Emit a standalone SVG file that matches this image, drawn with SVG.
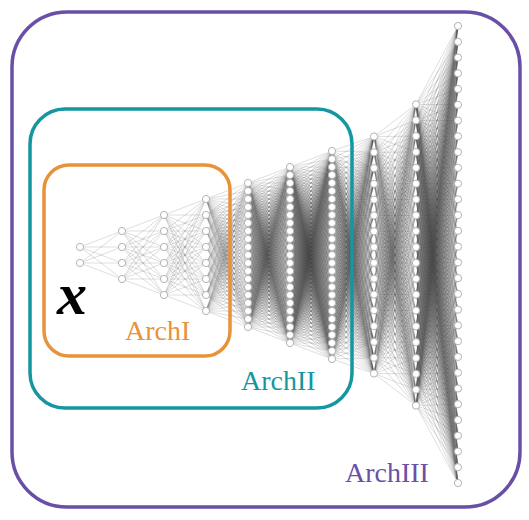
<svg xmlns="http://www.w3.org/2000/svg" xmlns:xlink="http://www.w3.org/1999/xlink" width="529" height="520" viewBox="0 0 529 520">
<style>
.e{fill:none;stroke:#444;stroke-opacity:0.24;stroke-width:0.75;vector-effect:non-scaling-stroke}
.n{fill:#fff;stroke:#b4b4b4;stroke-width:1}
.box{fill:none;stroke-width:3.5}
.lbl{font-family:"Liberation Serif","Times New Roman",serif;font-size:28px}
</style>
<defs>
<path id="f1" class="e" d="M0 0L1 231M0 0L1 247M0 0L1 263M0 0L1 279"/>
<path id="f2" class="e" d="M0 0L1 215M0 0L1 231M0 0L1 247M0 0L1 263M0 0L1 279M0 0L1 295"/>
<path id="f3" class="e" d="M0 0L1 199M0 0L1 215M0 0L1 231M0 0L1 247M0 0L1 263M0 0L1 279M0 0L1 295M0 0L1 311"/>
<path id="f4" class="e" d="M0 0L1 183M0 0L1 191M0 0L1 199M0 0L1 207M0 0L1 215M0 0L1 223M0 0L1 231M0 0L1 239M0 0L1 247M0 0L1 255M0 0L1 263M0 0L1 271M0 0L1 279M0 0L1 287M0 0L1 295M0 0L1 303M0 0L1 311M0 0L1 319M0 0L1 327"/>
<path id="f5" class="e" d="M0 0L1 167M0 0L1 175M0 0L1 183M0 0L1 191M0 0L1 199M0 0L1 207M0 0L1 215M0 0L1 223M0 0L1 231M0 0L1 239M0 0L1 247M0 0L1 255M0 0L1 263M0 0L1 271M0 0L1 279M0 0L1 287M0 0L1 295M0 0L1 303M0 0L1 311M0 0L1 319M0 0L1 327M0 0L1 335M0 0L1 343"/>
<path id="f6" class="e" d="M0 0L1 151M0 0L1 159M0 0L1 167M0 0L1 175M0 0L1 183M0 0L1 191M0 0L1 199M0 0L1 207M0 0L1 215M0 0L1 223M0 0L1 231M0 0L1 239M0 0L1 247M0 0L1 255M0 0L1 263M0 0L1 271M0 0L1 279M0 0L1 287M0 0L1 295M0 0L1 303M0 0L1 311M0 0L1 319M0 0L1 327M0 0L1 335M0 0L1 343M0 0L1 351M0 0L1 359"/>
<path id="f7" class="e" d="M0 0L1 136.5M0 0L1 152.3M0 0L1 168.1M0 0L1 183.9M0 0L1 199.7M0 0L1 215.5M0 0L1 231.3M0 0L1 247.1M0 0L1 262.9M0 0L1 278.7M0 0L1 294.5M0 0L1 310.3M0 0L1 326.1M0 0L1 341.9M0 0L1 357.7M0 0L1 373.5"/>
<path id="f8" class="e" d="M0 0L1 104.4M0 0L1 120.3M0 0L1 136.1M0 0L1 152M0 0L1 167.8M0 0L1 183.7M0 0L1 199.5M0 0L1 215.4M0 0L1 231.2M0 0L1 247.1M0 0L1 262.9M0 0L1 278.8M0 0L1 294.6M0 0L1 310.5M0 0L1 326.3M0 0L1 342.2M0 0L1 358M0 0L1 373.9M0 0L1 389.7M0 0L1 405.6"/>
<path id="f9" class="e" d="M0 0L1 26M0 0L1 41.8M0 0L1 57.5M0 0L1 73.3M0 0L1 89M0 0L1 104.8M0 0L1 120.6M0 0L1 136.3M0 0L1 152.1M0 0L1 167.8M0 0L1 183.6M0 0L1 199.3M0 0L1 215.1M0 0L1 230.9M0 0L1 246.6M0 0L1 262.4M0 0L1 278.1M0 0L1 293.9M0 0L1 309.7M0 0L1 325.4M0 0L1 341.2M0 0L1 356.9M0 0L1 372.7M0 0L1 388.5M0 0L1 404.2M0 0L1 420M0 0L1 435.7M0 0L1 451.5M0 0L1 467.2M0 0L1 483"/>
</defs>
<rect width="529" height="520" fill="#fff"/>
<g id="connectors">
<use href="#f1" transform="matrix(42 -247 0 1 80 247)"/>
<use href="#f1" transform="matrix(42 -263 0 1 80 263)"/>
<use href="#f2" transform="matrix(42 -231 0 1 122 231)"/>
<use href="#f2" transform="matrix(42 -247 0 1 122 247)"/>
<use href="#f2" transform="matrix(42 -263 0 1 122 263)"/>
<use href="#f2" transform="matrix(42 -279 0 1 122 279)"/>
<use href="#f3" transform="matrix(42 -215 0 1 164 215)"/>
<use href="#f3" transform="matrix(42 -231 0 1 164 231)"/>
<use href="#f3" transform="matrix(42 -247 0 1 164 247)"/>
<use href="#f3" transform="matrix(42 -263 0 1 164 263)"/>
<use href="#f3" transform="matrix(42 -279 0 1 164 279)"/>
<use href="#f3" transform="matrix(42 -295 0 1 164 295)"/>
<use href="#f4" transform="matrix(42 -199 0 1 206 199)"/>
<use href="#f4" transform="matrix(42 -215 0 1 206 215)"/>
<use href="#f4" transform="matrix(42 -231 0 1 206 231)"/>
<use href="#f4" transform="matrix(42 -247 0 1 206 247)"/>
<use href="#f4" transform="matrix(42 -263 0 1 206 263)"/>
<use href="#f4" transform="matrix(42 -279 0 1 206 279)"/>
<use href="#f4" transform="matrix(42 -295 0 1 206 295)"/>
<use href="#f4" transform="matrix(42 -311 0 1 206 311)"/>
<use href="#f5" transform="matrix(42 -183 0 1 248 183)"/>
<use href="#f5" transform="matrix(42 -191 0 1 248 191)"/>
<use href="#f5" transform="matrix(42 -199 0 1 248 199)"/>
<use href="#f5" transform="matrix(42 -207 0 1 248 207)"/>
<use href="#f5" transform="matrix(42 -215 0 1 248 215)"/>
<use href="#f5" transform="matrix(42 -223 0 1 248 223)"/>
<use href="#f5" transform="matrix(42 -231 0 1 248 231)"/>
<use href="#f5" transform="matrix(42 -239 0 1 248 239)"/>
<use href="#f5" transform="matrix(42 -247 0 1 248 247)"/>
<use href="#f5" transform="matrix(42 -255 0 1 248 255)"/>
<use href="#f5" transform="matrix(42 -263 0 1 248 263)"/>
<use href="#f5" transform="matrix(42 -271 0 1 248 271)"/>
<use href="#f5" transform="matrix(42 -279 0 1 248 279)"/>
<use href="#f5" transform="matrix(42 -287 0 1 248 287)"/>
<use href="#f5" transform="matrix(42 -295 0 1 248 295)"/>
<use href="#f5" transform="matrix(42 -303 0 1 248 303)"/>
<use href="#f5" transform="matrix(42 -311 0 1 248 311)"/>
<use href="#f5" transform="matrix(42 -319 0 1 248 319)"/>
<use href="#f5" transform="matrix(42 -327 0 1 248 327)"/>
<use href="#f6" transform="matrix(42 -167 0 1 290 167)"/>
<use href="#f6" transform="matrix(42 -175 0 1 290 175)"/>
<use href="#f6" transform="matrix(42 -183 0 1 290 183)"/>
<use href="#f6" transform="matrix(42 -191 0 1 290 191)"/>
<use href="#f6" transform="matrix(42 -199 0 1 290 199)"/>
<use href="#f6" transform="matrix(42 -207 0 1 290 207)"/>
<use href="#f6" transform="matrix(42 -215 0 1 290 215)"/>
<use href="#f6" transform="matrix(42 -223 0 1 290 223)"/>
<use href="#f6" transform="matrix(42 -231 0 1 290 231)"/>
<use href="#f6" transform="matrix(42 -239 0 1 290 239)"/>
<use href="#f6" transform="matrix(42 -247 0 1 290 247)"/>
<use href="#f6" transform="matrix(42 -255 0 1 290 255)"/>
<use href="#f6" transform="matrix(42 -263 0 1 290 263)"/>
<use href="#f6" transform="matrix(42 -271 0 1 290 271)"/>
<use href="#f6" transform="matrix(42 -279 0 1 290 279)"/>
<use href="#f6" transform="matrix(42 -287 0 1 290 287)"/>
<use href="#f6" transform="matrix(42 -295 0 1 290 295)"/>
<use href="#f6" transform="matrix(42 -303 0 1 290 303)"/>
<use href="#f6" transform="matrix(42 -311 0 1 290 311)"/>
<use href="#f6" transform="matrix(42 -319 0 1 290 319)"/>
<use href="#f6" transform="matrix(42 -327 0 1 290 327)"/>
<use href="#f6" transform="matrix(42 -335 0 1 290 335)"/>
<use href="#f6" transform="matrix(42 -343 0 1 290 343)"/>
<use href="#f7" transform="matrix(42 -151 0 1 332 151)"/>
<use href="#f7" transform="matrix(42 -159 0 1 332 159)"/>
<use href="#f7" transform="matrix(42 -167 0 1 332 167)"/>
<use href="#f7" transform="matrix(42 -175 0 1 332 175)"/>
<use href="#f7" transform="matrix(42 -183 0 1 332 183)"/>
<use href="#f7" transform="matrix(42 -191 0 1 332 191)"/>
<use href="#f7" transform="matrix(42 -199 0 1 332 199)"/>
<use href="#f7" transform="matrix(42 -207 0 1 332 207)"/>
<use href="#f7" transform="matrix(42 -215 0 1 332 215)"/>
<use href="#f7" transform="matrix(42 -223 0 1 332 223)"/>
<use href="#f7" transform="matrix(42 -231 0 1 332 231)"/>
<use href="#f7" transform="matrix(42 -239 0 1 332 239)"/>
<use href="#f7" transform="matrix(42 -247 0 1 332 247)"/>
<use href="#f7" transform="matrix(42 -255 0 1 332 255)"/>
<use href="#f7" transform="matrix(42 -263 0 1 332 263)"/>
<use href="#f7" transform="matrix(42 -271 0 1 332 271)"/>
<use href="#f7" transform="matrix(42 -279 0 1 332 279)"/>
<use href="#f7" transform="matrix(42 -287 0 1 332 287)"/>
<use href="#f7" transform="matrix(42 -295 0 1 332 295)"/>
<use href="#f7" transform="matrix(42 -303 0 1 332 303)"/>
<use href="#f7" transform="matrix(42 -311 0 1 332 311)"/>
<use href="#f7" transform="matrix(42 -319 0 1 332 319)"/>
<use href="#f7" transform="matrix(42 -327 0 1 332 327)"/>
<use href="#f7" transform="matrix(42 -335 0 1 332 335)"/>
<use href="#f7" transform="matrix(42 -343 0 1 332 343)"/>
<use href="#f7" transform="matrix(42 -351 0 1 332 351)"/>
<use href="#f7" transform="matrix(42 -359 0 1 332 359)"/>
<use href="#f8" transform="matrix(42 -136.5 0 1 374 136.5)"/>
<use href="#f8" transform="matrix(42 -152.3 0 1 374 152.3)"/>
<use href="#f8" transform="matrix(42 -168.1 0 1 374 168.1)"/>
<use href="#f8" transform="matrix(42 -183.9 0 1 374 183.9)"/>
<use href="#f8" transform="matrix(42 -199.7 0 1 374 199.7)"/>
<use href="#f8" transform="matrix(42 -215.5 0 1 374 215.5)"/>
<use href="#f8" transform="matrix(42 -231.3 0 1 374 231.3)"/>
<use href="#f8" transform="matrix(42 -247.1 0 1 374 247.1)"/>
<use href="#f8" transform="matrix(42 -262.9 0 1 374 262.9)"/>
<use href="#f8" transform="matrix(42 -278.7 0 1 374 278.7)"/>
<use href="#f8" transform="matrix(42 -294.5 0 1 374 294.5)"/>
<use href="#f8" transform="matrix(42 -310.3 0 1 374 310.3)"/>
<use href="#f8" transform="matrix(42 -326.1 0 1 374 326.1)"/>
<use href="#f8" transform="matrix(42 -341.9 0 1 374 341.9)"/>
<use href="#f8" transform="matrix(42 -357.7 0 1 374 357.7)"/>
<use href="#f8" transform="matrix(42 -373.5 0 1 374 373.5)"/>
<use href="#f9" transform="matrix(42 -104.4 0 1 416 104.4)"/>
<use href="#f9" transform="matrix(42 -120.3 0 1 416 120.3)"/>
<use href="#f9" transform="matrix(42 -136.1 0 1 416 136.1)"/>
<use href="#f9" transform="matrix(42 -152 0 1 416 152)"/>
<use href="#f9" transform="matrix(42 -167.8 0 1 416 167.8)"/>
<use href="#f9" transform="matrix(42 -183.7 0 1 416 183.7)"/>
<use href="#f9" transform="matrix(42 -199.5 0 1 416 199.5)"/>
<use href="#f9" transform="matrix(42 -215.4 0 1 416 215.4)"/>
<use href="#f9" transform="matrix(42 -231.2 0 1 416 231.2)"/>
<use href="#f9" transform="matrix(42 -247.1 0 1 416 247.1)"/>
<use href="#f9" transform="matrix(42 -262.9 0 1 416 262.9)"/>
<use href="#f9" transform="matrix(42 -278.8 0 1 416 278.8)"/>
<use href="#f9" transform="matrix(42 -294.6 0 1 416 294.6)"/>
<use href="#f9" transform="matrix(42 -310.5 0 1 416 310.5)"/>
<use href="#f9" transform="matrix(42 -326.3 0 1 416 326.3)"/>
<use href="#f9" transform="matrix(42 -342.2 0 1 416 342.2)"/>
<use href="#f9" transform="matrix(42 -358 0 1 416 358)"/>
<use href="#f9" transform="matrix(42 -373.9 0 1 416 373.9)"/>
<use href="#f9" transform="matrix(42 -389.7 0 1 416 389.7)"/>
<use href="#f9" transform="matrix(42 -405.6 0 1 416 405.6)"/>
</g>
<g id="layer1">
<circle class="n" r="3.6" cx="80" cy="247"/><circle class="n" r="3.6" cx="80" cy="263"/>
</g>
<g id="layer2">
<circle class="n" r="3.6" cx="122" cy="231"/><circle class="n" r="3.6" cx="122" cy="247"/><circle class="n" r="3.6" cx="122" cy="263"/><circle class="n" r="3.6" cx="122" cy="279"/>
</g>
<g id="layer3">
<circle class="n" r="3.6" cx="164" cy="215"/><circle class="n" r="3.6" cx="164" cy="231"/><circle class="n" r="3.6" cx="164" cy="247"/><circle class="n" r="3.6" cx="164" cy="263"/><circle class="n" r="3.6" cx="164" cy="279"/><circle class="n" r="3.6" cx="164" cy="295"/>
</g>
<g id="layer4">
<circle class="n" r="3.6" cx="206" cy="199"/><circle class="n" r="3.6" cx="206" cy="215"/><circle class="n" r="3.6" cx="206" cy="231"/><circle class="n" r="3.6" cx="206" cy="247"/><circle class="n" r="3.6" cx="206" cy="263"/><circle class="n" r="3.6" cx="206" cy="279"/><circle class="n" r="3.6" cx="206" cy="295"/><circle class="n" r="3.6" cx="206" cy="311"/>
</g>
<g id="layer5">
<circle class="n" r="3.6" cx="248" cy="183"/><circle class="n" r="3.6" cx="248" cy="191"/><circle class="n" r="3.6" cx="248" cy="199"/><circle class="n" r="3.6" cx="248" cy="207"/><circle class="n" r="3.6" cx="248" cy="215"/><circle class="n" r="3.6" cx="248" cy="223"/><circle class="n" r="3.6" cx="248" cy="231"/><circle class="n" r="3.6" cx="248" cy="239"/><circle class="n" r="3.6" cx="248" cy="247"/><circle class="n" r="3.6" cx="248" cy="255"/><circle class="n" r="3.6" cx="248" cy="263"/><circle class="n" r="3.6" cx="248" cy="271"/><circle class="n" r="3.6" cx="248" cy="279"/><circle class="n" r="3.6" cx="248" cy="287"/><circle class="n" r="3.6" cx="248" cy="295"/><circle class="n" r="3.6" cx="248" cy="303"/><circle class="n" r="3.6" cx="248" cy="311"/><circle class="n" r="3.6" cx="248" cy="319"/><circle class="n" r="3.6" cx="248" cy="327"/>
</g>
<g id="layer6">
<circle class="n" r="3.6" cx="290" cy="167"/><circle class="n" r="3.6" cx="290" cy="175"/><circle class="n" r="3.6" cx="290" cy="183"/><circle class="n" r="3.6" cx="290" cy="191"/><circle class="n" r="3.6" cx="290" cy="199"/><circle class="n" r="3.6" cx="290" cy="207"/><circle class="n" r="3.6" cx="290" cy="215"/><circle class="n" r="3.6" cx="290" cy="223"/><circle class="n" r="3.6" cx="290" cy="231"/><circle class="n" r="3.6" cx="290" cy="239"/><circle class="n" r="3.6" cx="290" cy="247"/><circle class="n" r="3.6" cx="290" cy="255"/><circle class="n" r="3.6" cx="290" cy="263"/><circle class="n" r="3.6" cx="290" cy="271"/><circle class="n" r="3.6" cx="290" cy="279"/><circle class="n" r="3.6" cx="290" cy="287"/><circle class="n" r="3.6" cx="290" cy="295"/><circle class="n" r="3.6" cx="290" cy="303"/><circle class="n" r="3.6" cx="290" cy="311"/><circle class="n" r="3.6" cx="290" cy="319"/><circle class="n" r="3.6" cx="290" cy="327"/><circle class="n" r="3.6" cx="290" cy="335"/><circle class="n" r="3.6" cx="290" cy="343"/>
</g>
<g id="layer7">
<circle class="n" r="3.6" cx="332" cy="151"/><circle class="n" r="3.6" cx="332" cy="159"/><circle class="n" r="3.6" cx="332" cy="167"/><circle class="n" r="3.6" cx="332" cy="175"/><circle class="n" r="3.6" cx="332" cy="183"/><circle class="n" r="3.6" cx="332" cy="191"/><circle class="n" r="3.6" cx="332" cy="199"/><circle class="n" r="3.6" cx="332" cy="207"/><circle class="n" r="3.6" cx="332" cy="215"/><circle class="n" r="3.6" cx="332" cy="223"/><circle class="n" r="3.6" cx="332" cy="231"/><circle class="n" r="3.6" cx="332" cy="239"/><circle class="n" r="3.6" cx="332" cy="247"/><circle class="n" r="3.6" cx="332" cy="255"/><circle class="n" r="3.6" cx="332" cy="263"/><circle class="n" r="3.6" cx="332" cy="271"/><circle class="n" r="3.6" cx="332" cy="279"/><circle class="n" r="3.6" cx="332" cy="287"/><circle class="n" r="3.6" cx="332" cy="295"/><circle class="n" r="3.6" cx="332" cy="303"/><circle class="n" r="3.6" cx="332" cy="311"/><circle class="n" r="3.6" cx="332" cy="319"/><circle class="n" r="3.6" cx="332" cy="327"/><circle class="n" r="3.6" cx="332" cy="335"/><circle class="n" r="3.6" cx="332" cy="343"/><circle class="n" r="3.6" cx="332" cy="351"/><circle class="n" r="3.6" cx="332" cy="359"/>
</g>
<g id="layer8">
<circle class="n" r="3.6" cx="374" cy="136.5"/><circle class="n" r="3.6" cx="374" cy="152.3"/><circle class="n" r="3.6" cx="374" cy="168.1"/><circle class="n" r="3.6" cx="374" cy="183.9"/><circle class="n" r="3.6" cx="374" cy="199.7"/><circle class="n" r="3.6" cx="374" cy="215.5"/><circle class="n" r="3.6" cx="374" cy="231.3"/><circle class="n" r="3.6" cx="374" cy="247.1"/><circle class="n" r="3.6" cx="374" cy="262.9"/><circle class="n" r="3.6" cx="374" cy="278.7"/><circle class="n" r="3.6" cx="374" cy="294.5"/><circle class="n" r="3.6" cx="374" cy="310.3"/><circle class="n" r="3.6" cx="374" cy="326.1"/><circle class="n" r="3.6" cx="374" cy="341.9"/><circle class="n" r="3.6" cx="374" cy="357.7"/><circle class="n" r="3.6" cx="374" cy="373.5"/>
</g>
<g id="layer9">
<circle class="n" r="3.6" cx="416" cy="104.4"/><circle class="n" r="3.6" cx="416" cy="120.3"/><circle class="n" r="3.6" cx="416" cy="136.1"/><circle class="n" r="3.6" cx="416" cy="152"/><circle class="n" r="3.6" cx="416" cy="167.8"/><circle class="n" r="3.6" cx="416" cy="183.7"/><circle class="n" r="3.6" cx="416" cy="199.5"/><circle class="n" r="3.6" cx="416" cy="215.4"/><circle class="n" r="3.6" cx="416" cy="231.2"/><circle class="n" r="3.6" cx="416" cy="247.1"/><circle class="n" r="3.6" cx="416" cy="262.9"/><circle class="n" r="3.6" cx="416" cy="278.8"/><circle class="n" r="3.6" cx="416" cy="294.6"/><circle class="n" r="3.6" cx="416" cy="310.5"/><circle class="n" r="3.6" cx="416" cy="326.3"/><circle class="n" r="3.6" cx="416" cy="342.2"/><circle class="n" r="3.6" cx="416" cy="358"/><circle class="n" r="3.6" cx="416" cy="373.9"/><circle class="n" r="3.6" cx="416" cy="389.7"/><circle class="n" r="3.6" cx="416" cy="405.6"/>
</g>
<g id="layer10">
<circle class="n" r="3.6" cx="458" cy="26"/><circle class="n" r="3.6" cx="458" cy="41.8"/><circle class="n" r="3.6" cx="458" cy="57.5"/><circle class="n" r="3.6" cx="458" cy="73.3"/><circle class="n" r="3.6" cx="458" cy="89"/><circle class="n" r="3.6" cx="458" cy="104.8"/><circle class="n" r="3.6" cx="458" cy="120.6"/><circle class="n" r="3.6" cx="458" cy="136.3"/><circle class="n" r="3.6" cx="458" cy="152.1"/><circle class="n" r="3.6" cx="458" cy="167.8"/><circle class="n" r="3.6" cx="458" cy="183.6"/><circle class="n" r="3.6" cx="458" cy="199.3"/><circle class="n" r="3.6" cx="458" cy="215.1"/><circle class="n" r="3.6" cx="458" cy="230.9"/><circle class="n" r="3.6" cx="458" cy="246.6"/><circle class="n" r="3.6" cx="458" cy="262.4"/><circle class="n" r="3.6" cx="458" cy="278.1"/><circle class="n" r="3.6" cx="458" cy="293.9"/><circle class="n" r="3.6" cx="458" cy="309.7"/><circle class="n" r="3.6" cx="458" cy="325.4"/><circle class="n" r="3.6" cx="458" cy="341.2"/><circle class="n" r="3.6" cx="458" cy="356.9"/><circle class="n" r="3.6" cx="458" cy="372.7"/><circle class="n" r="3.6" cx="458" cy="388.5"/><circle class="n" r="3.6" cx="458" cy="404.2"/><circle class="n" r="3.6" cx="458" cy="420"/><circle class="n" r="3.6" cx="458" cy="435.7"/><circle class="n" r="3.6" cx="458" cy="451.5"/><circle class="n" r="3.6" cx="458" cy="467.2"/><circle class="n" r="3.6" cx="458" cy="483"/>
</g>
<g id="archIII">
<rect class="box" x="12" y="12" width="508" height="495" rx="55" stroke="#6a4fa7"/>
<text class="lbl" x="345" y="482" fill="#6a4fa7">ArchIII</text>
</g>
<g id="archII">
<rect class="box" x="30" y="109" width="322" height="299" rx="35" stroke="#1596a0"/>
<text class="lbl" x="241" y="390" fill="#1596a0">ArchII</text>
</g>
<g id="archI">
<rect class="box" x="44" y="165" width="186" height="191" rx="25" stroke="#e8923a"/>
<text class="lbl" x="125" y="340" fill="#e8923a">ArchI</text>
</g>
<g id="input-x">
<text x="57" y="314" font-family="'Liberation Serif','Times New Roman',serif" font-style="italic" font-weight="bold" font-size="60" fill="#000">x</text>
</g>
</svg>
